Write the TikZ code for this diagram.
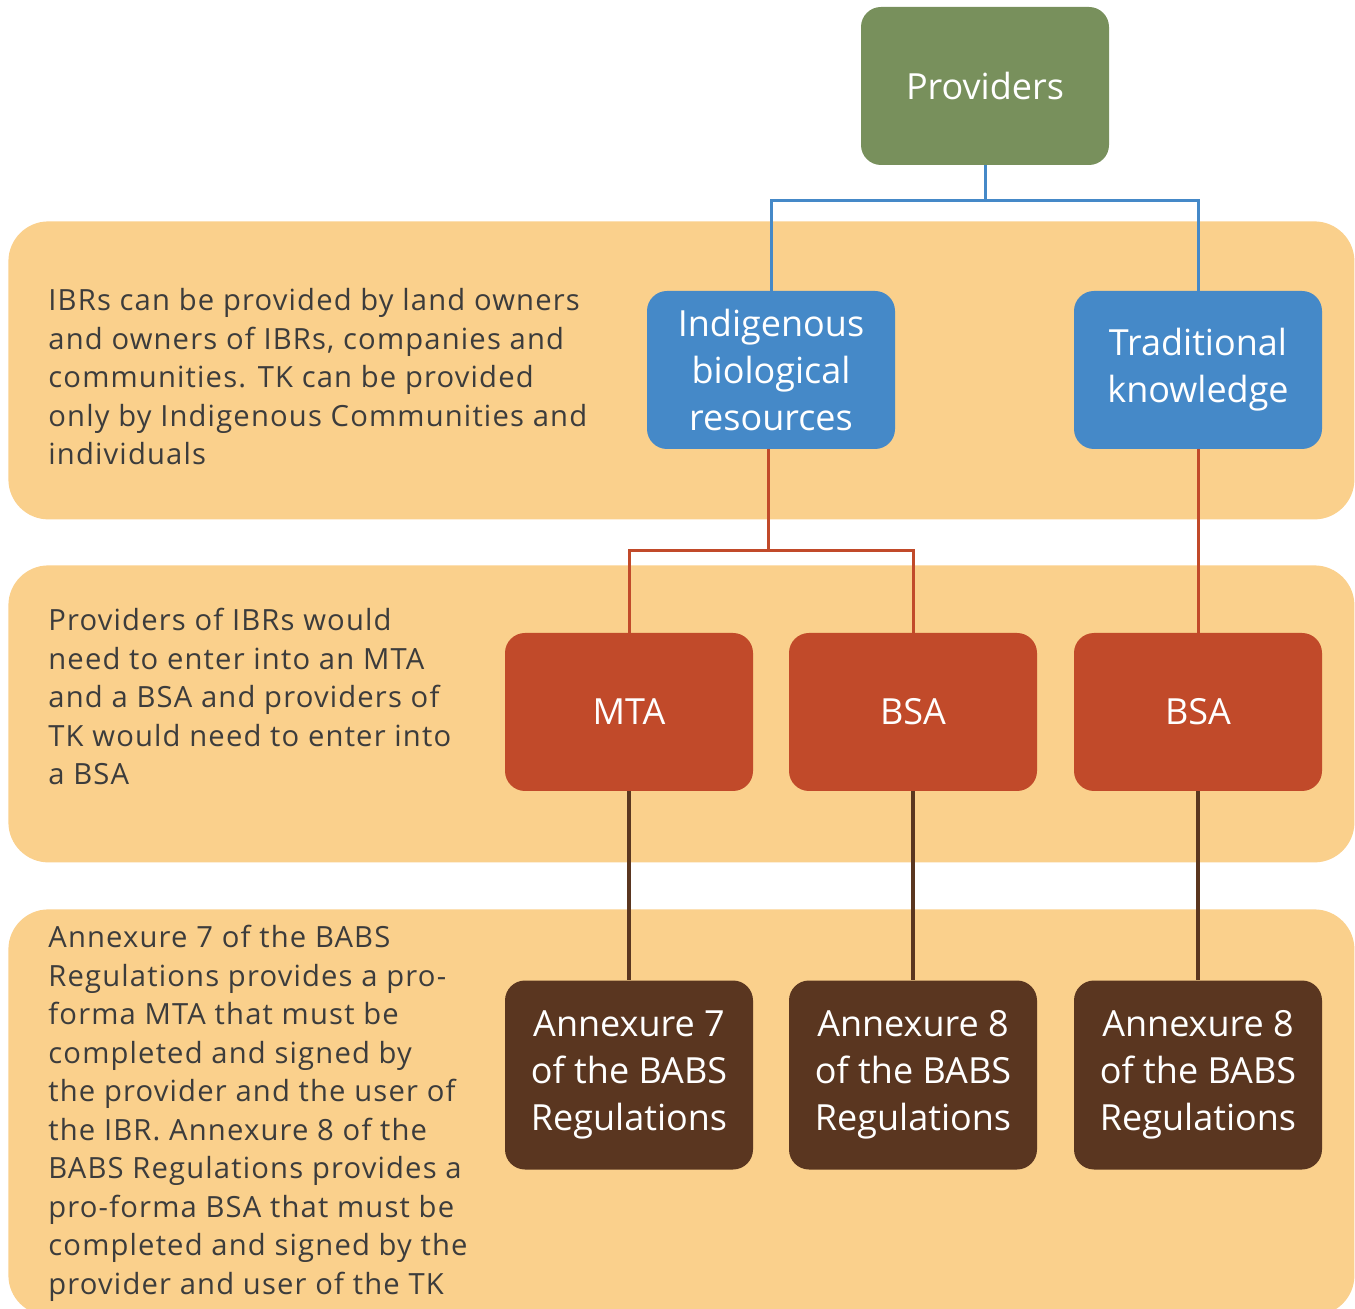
\documentclass[tikz,border=0pt]{standalone}
\usepackage{fontspec}
\setmainfont{Open Sans}
\newfontfamily\notefont[LetterSpace=4]{Open Sans}
\usepackage{tikz}
\usetikzlibrary{positioning,calc}
\usepackage{xcolor}

\definecolor{bandcol}{HTML}{FAD08C}
\definecolor{provcol}{HTML}{78905C}
\definecolor{bluecol}{HTML}{4589C8}
\definecolor{redcol}{HTML}{C14A2A}
\definecolor{browncol}{HTML}{5A3620}
\definecolor{textcol}{HTML}{3C3C3C}

\begin{document}
\begin{tikzpicture}[x=0.5pt, y=-0.5pt,
    band/.style={fill=bandcol, rounded corners=20pt, inner sep=0pt, anchor=north west},
    box/.style={rounded corners=10pt, minimum width=124pt, minimum height=79pt, inner sep=2pt,
        text=white, font=\fontsize{18}{23.5}\selectfont, align=center},
    note/.style={anchor=north west, inner sep=0pt, text=textcol, align=left,
        font=\notefont\fontsize{14.6}{19.25}\selectfont},
    blueline/.style={draw=bluecol, line width=1.5pt},
    redline/.style={draw=redcol, line width=1.5pt},
    brownline/.style={draw=browncol, line width=2pt}]
        \useasboundingbox (0,0) rectangle (1355,1309);

        % Bands
        \node[band, minimum width=673pt, minimum height=149pt] (band1) at (8,221) {};
        \node[band, minimum width=673pt, minimum height=148.5pt] (band2) at (8,565) {};
        \node[band, minimum width=673pt, minimum height=203pt] (band3) at (8,909) {};

        % Notes
        \node[note] (note1) at (48,288) {IBRs can be provided by land owners\\and owners of IBRs, companies and\\communities. TK can be provided\\only by Indigenous Communities and\\individuals};
        \node[note] (note2) at (48,608) {Providers of IBRs would\\need to enter into an MTA\\and a BSA and providers of\\TK would need to enter into\\a BSA};
        \node[note] (note3) at (48,925) {Annexure 7 of the BABS\\Regulations provides a pro-\\forma MTA that must be\\completed and signed by\\the provider and the user of\\the IBR. Annexure 8 of the\\BABS Regulations provides a\\pro-forma BSA that must be\\completed and signed by the\\provider and user of the TK};

        % Providers
        \node[box, fill=provcol] (prov) at (985,86) {Providers};

        % Resources
        \node[box, fill=bluecol] (ibr) at (771,370) {Indigenous\\biological\\resources};
        \node[box, fill=bluecol] (tk) at (1198,370) {Traditional\\knowledge};

        % Agreements
        \node[box, fill=redcol] (mta) at (629,712) {MTA};
        \node[box, fill=redcol] (bsa1) at (913,712) {BSA};
        \node[box, fill=redcol] (bsa2) at (1198,712) {BSA};

        % Annexures
        \node[box, fill=browncol, minimum height=94.5pt] (anx1) at (629,1075) {Annexure 7\\of the BABS\\Regulations};
        \node[box, fill=browncol, minimum height=94.5pt] (anx2) at (913,1075) {Annexure 8\\of the BABS\\Regulations};
        \node[box, fill=browncol, minimum height=94.5pt] (anx3) at (1198,1075) {Annexure 8\\of the BABS\\Regulations};

        % Connectors
        \coordinate (split1) at (985,201);
        \coordinate (split2) at (768,551);
        \draw[blueline] (prov.south) -- (split1);
        \draw[blueline] (ibr.north) |- (split1) -| (tk.north);
        \draw[redline] (ibr.south -| split2) -- (split2);
        \draw[redline] (mta.north) |- (split2) -| (bsa1.north);
        \draw[redline] (tk) -- (bsa2);
        \draw[brownline] (mta) -- (anx1);
        \draw[brownline] (bsa1) -- (anx2);
        \draw[brownline] (bsa2) -- (anx3);
    \end{tikzpicture}
\end{document}
